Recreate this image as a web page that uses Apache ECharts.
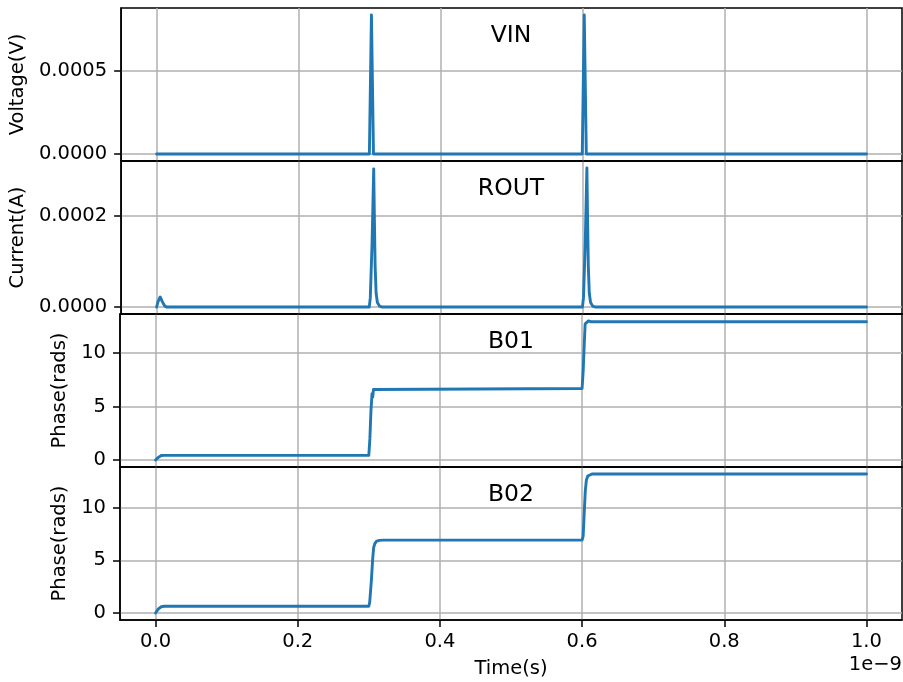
<!DOCTYPE html>
<html>
<head>
<meta charset="utf-8">
<script src="https://cdn.jsdelivr.net/npm/echarts@6/dist/echarts.min.js"></script>
<style>
  html, body { margin: 0; padding: 0; background: #fff; }
  #chart { width: 903px; height: 682px; }
</style>
</head>
<body>
<div id="chart"></div>
<script>
// Time axis is shown in units of 1e-9 s (offset label drawn at the lower right).
const xTicks = [0.0, 0.2, 0.4, 0.6, 0.8, 1.0];

// VIN: input voltage pulses (V)
const vinTime   = [0, 0.2997, 0.3026, 0.3055, 0.5996, 0.6024, 0.6053, 1.0];
const vinValues = [0, 0, 0.000834, 0, 0, 0.000834, 0, 0];
const vinTicks  = [0, 0.0005];

// ROUT: output current (A)
const routTime   = [0, 0.002, 0.005, 0.008, 0.011, 0.014,
                    0.2995, 0.301, 0.3035, 0.3058, 0.3068, 0.3078, 0.3092, 0.311, 0.314, 0.318,
                    0.5998, 0.6013, 0.6038, 0.6061, 0.6071, 0.6081, 0.6095, 0.6113, 0.6143, 0.6183,
                    1.0];
const routValues = [0, 0.000012, 0.000022, 0.000012, 0.000003, 0,
                    0, 0.00002, 0.00014, 0.000302, 0.00019, 0.00009, 0.00003, 0.00001, 0.000002, 0,
                    0, 0.00002, 0.00014, 0.000304, 0.00019, 0.00009, 0.00003, 0.00001, 0.000002, 0,
                    0];
const routTicks  = [0, 0.0002];

// B01: junction phase (rad)
const b01Time   = [0, 0.004, 0.008, 0.012,
                   0.3, 0.3015, 0.303, 0.3045, 0.3055, 0.3065, 0.3085,
                   0.6, 0.6015, 0.603, 0.6043, 0.6055, 0.609, 0.612,
                   1.0];
const b01Values = [0, 0.25, 0.42, 0.44,
                   0.44, 2.0, 4.6, 6.2, 5.9, 6.6, 6.70,
                   6.70, 8.3, 10.8, 12.75, 12.6, 13.02, 12.95,
                   12.95];
const b01Ticks  = [0, 5, 10];

// B02: junction phase (rad)
const b02Time   = [0, 0.004, 0.008, 0.012,
                   0.3, 0.3012, 0.3035, 0.3055, 0.3068, 0.3085, 0.311, 0.315, 0.32,
                   0.6, 0.6015, 0.603, 0.6045, 0.606, 0.608, 0.6105, 0.614,
                   1.0];
const b02Values = [0, 0.40, 0.60, 0.64,
                   0.64, 1.0, 3.0, 5.2, 6.2, 6.6, 6.82, 6.9, 6.92,
                   6.92, 7.3, 9.5, 11.6, 12.6, 13.0, 13.15, 13.2,
                   13.2];
const b02Ticks  = [0, 5, 10];

const panels = [
  { title: 'VIN',  yName: 'Voltage(V)',  time: vinTime,  values: vinValues,  ticks: vinTicks,  digits: 4, gap: 87 },
  { title: 'ROUT', yName: 'Current(A)',  time: routTime, values: routValues, ticks: routTicks, digits: 4, gap: 87 },
  { title: 'B01',  yName: 'Phase(rads)', time: b01Time,  values: b01Values,  ticks: b01Ticks,  digits: 0, gap: 44 },
  { title: 'B02',  yName: 'Phase(rads)', time: b02Time,  values: b02Values,  ticks: b02Ticks,  digits: 0, gap: 44 }
];

const FONT = 'DejaVu Sans';
const LINE_BLUE = '#1f77b4';
const GRID_GRAY = '#b0b0b0';
const PLOT_LEFT = 120, PLOT_WIDTH = 782, PLOT_TOP = 8, PANEL_H = 153;

// 5% padding on each side of the data span
function padded(arr) {
  const lo = Math.min(...arr), hi = Math.max(...arr);
  const pad = (hi - lo) * 0.05;
  return [lo - pad, hi + pad];
}
const xRange = padded([0, 1.0]);

const spine = { color: '#000', width: 1.5 };

const grids = [], xAxes = [], yAxes = [], series = [], titles = [];
panels.forEach((p, i) => {
  const top = PLOT_TOP + i * PANEL_H;
  const last = i === panels.length - 1;
  grids.push({
    left: PLOT_LEFT, top: top, width: PLOT_WIDTH, height: PANEL_H,
    show: true, borderColor: '#000', borderWidth: 1.5, backgroundColor: 'transparent'
  });
  xAxes.push({
    type: 'value', gridIndex: i, min: xRange[0], max: xRange[1], position: 'bottom',
    name: last ? 'Time(s)' : '', nameLocation: 'middle', nameGap: 39,
    nameTextStyle: { fontFamily: FONT, fontSize: 19.5, color: '#000' },
    axisLine: { show: true, onZero: false, lineStyle: spine },
    axisTick: { show: last, length: 7, lineStyle: spine, customValues: xTicks },
    axisLabel: { show: last, margin: 12, fontFamily: FONT, fontSize: 19.5, color: '#000',
                 customValues: xTicks, formatter: v => v.toFixed(1) },
    splitLine: { show: true, lineStyle: { color: GRID_GRAY, width: 1.5 } }
  });
  const yr = padded(p.values);
  yAxes.push({
    type: 'value', gridIndex: i, min: yr[0], max: yr[1], position: 'left',
    name: p.yName, nameLocation: 'middle', nameGap: p.gap, nameRotate: 90,
    nameTextStyle: { fontFamily: FONT, fontSize: 19.5, color: '#000' },
    axisLine: { show: true, onZero: false, lineStyle: spine },
    axisTick: { show: true, length: 7, lineStyle: spine, customValues: p.ticks },
    axisLabel: { show: true, margin: 14, fontFamily: FONT, fontSize: 19.5, color: '#000',
                 customValues: p.ticks, formatter: v => v.toFixed(p.digits) },
    splitLine: { show: true, lineStyle: { color: GRID_GRAY, width: 1.5 } }
  });
  series.push({
    type: 'line', xAxisIndex: i, yAxisIndex: i,
    data: p.time.map((t, k) => [t, p.values[k]]),
    showSymbol: false, symbol: 'none', silent: true,
    lineStyle: { color: LINE_BLUE, width: 2.9, join: 'round', cap: 'round' }
  });
  titles.push({
    text: p.title, left: PLOT_LEFT + PLOT_WIDTH / 2, top: top + 0.174 * PANEL_H - 10.5,
    textAlign: 'center', padding: 0,
    textStyle: { fontFamily: FONT, fontSize: 23.5, fontWeight: 'normal', color: '#000' }
  });
});

// scale offset for the time axis
titles.push({
  text: '1e\u22129', right: 1, top: 655, padding: 0,
  textStyle: { fontFamily: FONT, fontSize: 19.5, fontWeight: 'normal', color: '#000' }
});

const chart = echarts.init(document.getElementById('chart'), null, { renderer: 'canvas' });
chart.setOption({
  animation: false,
  backgroundColor: '#fff',
  title: titles,
  grid: grids,
  xAxis: xAxes,
  yAxis: yAxes,
  series: series
});
</script>
</body>
</html>
